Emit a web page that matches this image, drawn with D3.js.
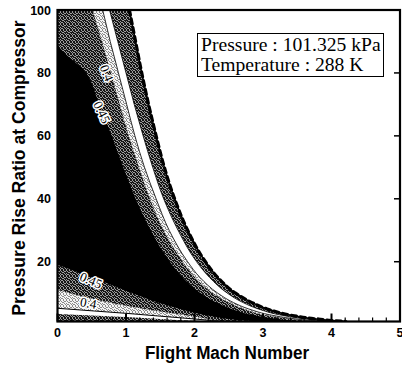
<!DOCTYPE html>
<html lang="en">
<head>
<meta charset="utf-8"/>
<title>Pressure rise ratio vs flight Mach number</title>
<script src="https://d3js.org/d3.v7.min.js"></script>
<style>
  html, body { margin: 0; padding: 0; background: #fff; }
  svg { display: block; }
  .tick-label { font-family: "Liberation Sans", Arial, sans-serif; font-size: 12.5px; font-weight: bold; fill: #000; }
  .axis-title { font-family: "Liberation Sans", Arial, sans-serif; font-weight: bold; fill: #000; }
  .note { font-family: "Liberation Serif", "Times New Roman", serif; font-size: 18px; fill: #000; }
  .clabel { font-family: "Liberation Serif", "Times New Roman", serif; font-size: 13px; fill: #000;
            stroke: #fff; stroke-width: 3px; paint-order: stroke; stroke-linejoin: round; }
</style>
</head>
<body>
<div id="chart"></div>
<script>
  // upper band: contour position (flight Mach) read at each pressure ratio
  const prLevels = [100, 90, 80, 70, 60, 50, 40, 30, 20, 15, 10, 7, 5, 3, 2, 1.4, 1];
  const machEdge = [1.05, 1.14, 1.23, 1.33, 1.44, 1.56, 1.71, 1.90, 2.16, 2.34, 2.60, 2.84, 3.06, 3.41, 3.70, 3.96, 4.21];
  const machL1   = [0.76, 0.88, 1.00, 1.12, 1.25, 1.39, 1.55, 1.76, 2.03, 2.22, 2.48, 2.71, 2.93, 3.27, 3.55, 3.80, 4.05];
  const machL2   = [0.66, 0.77, 0.89, 1.01, 1.13, 1.27, 1.44, 1.63, 1.90, 2.08, 2.34, 2.57, 2.79, 3.13, 3.41, 3.66, 3.90];
  const mach040  = [0.51, 0.65, 0.78, 0.91, 1.04, 1.19, 1.35, 1.55, 1.83, 2.01, 2.27, 2.50, 2.72, 3.05, 3.33, 3.58, 3.82];
  const mach045  = [0.00, 0.00, 0.42, 0.61, 0.79, 0.96, 1.14, 1.36, 1.64, 1.83, 2.09, 2.32, 2.54, 2.87, 3.14, 3.38, 3.62];

  // lower band: contour position (pressure ratio) read at each Mach number
  const machLevels = [0, 0.5, 1.0, 1.5, 2.0, 2.5, 3.0];
  const prLow045 = [19.0, 15.0, 10.8, 6.8, 3.8, 1.8, 1.0];
  const prLow040 = [11.0, 8.2, 6.0, 4.2, 2.6, 1.0, 1.0];
  const prLowL2  = [5.2, 4.4, 3.6, 2.7, 1.8, 1.0, 1.0];
  const prLowL1  = [3.4, 2.9, 2.4, 1.8, 1.2, 1.0, 1.0];

  // contour labels
  const labelText  = ["0.4", "0.45", "0.45", "0.4"];
  const labelMach  = [0.72, 0.65, 0.49, 0.45];
  const labelPr    = [80, 67.5, 14.1, 6.9];
  const labelAngle = [68, 64, 23, 10];

  const xTicks = [0, 1, 2, 3, 4, 5];
  const yTicks = [20, 40, 60, 80, 100];
  const noteLines = ["Pressure : 101.325 kPa", "Temperature : 288 K"];

  const width = 402, height = 369;
  const plotLeft = 57.5, plotRight = 400, plotTop = 10, plotBottom = 321.5;

  const x = d3.scaleLinear().domain([0, 5]).range([plotLeft, plotRight]);
  const y = d3.scaleLinear().domain([1, 100]).range([plotBottom, plotTop]);

  const svg = d3.select("#chart").append("svg")
      .attr("width", width)
      .attr("height", height)
      .attr("viewBox", [0, 0, width, height]);

  const defs = svg.append("defs");

  // scanned-looking stipple: a 6x6 tile with scattered dots
  const dots = [[0,0],[3,0],[1,1],[4,1],[5,1],[2,2],[3,2],[0,3],[4,3],[1,4],[2,4],[5,4],[3,5],[0,5]];
  function stipple(id, bg, dot) {
    const p = defs.append("pattern").attr("id", id)
        .attr("width", 6).attr("height", 6).attr("patternUnits", "userSpaceOnUse");
    p.append("rect").attr("width", 6).attr("height", 6).attr("fill", bg);
    p.selectAll("rect.dot")
      .data(dots)
      .join("rect")
        .attr("class", "dot")
        .attr("x", d => d[0]).attr("y", d => d[1])
        .attr("width", 1).attr("height", 1)
        .attr("fill", dot);
  }
  stipple("dark", "#151515", "#9c9c9c");
  stipple("light", "#f4f4f4", "#8a8a8a");

  defs.append("clipPath").attr("id", "plot")
    .append("rect").attr("x", plotLeft).attr("y", plotTop)
      .attr("width", plotRight - plotLeft).attr("height", plotBottom - plotTop);

  const upper = ms => prLevels.map((p, i) => ({pr: p, m: ms[i]}));
  const lower = ps => machLevels.map((m, i) => ({m: m, pr: ps[i]}));

  // area between Mach 0 and a contour given as Mach(P)
  const areaUpper = d3.area()
      .y(d => y(d.pr))
      .x0(x(0))
      .x1(d => x(d.m))
      .curve(d3.curveMonotoneY);
  const lineUpper = d3.line()
      .x(d => x(d.m))
      .y(d => y(d.pr))
      .curve(d3.curveMonotoneY);

  // area between P = 1 and a contour given as P(Mach)
  const areaLower = d3.area()
      .x(d => x(d.m))
      .y0(y(1))
      .y1(d => y(d.pr))
      .curve(d3.curveMonotoneX);
  const lineLower = d3.line()
      .x(d => x(d.m))
      .y(d => y(d.pr))
      .curve(d3.curveMonotoneX);

  defs.append("clipPath").attr("id", "core")
    .append("path").attr("d", areaUpper(upper(mach045)));

  const g = svg.append("g").attr("clip-path", "url(#plot)");

  // upper bands, painted from the outside in
  const bands = [
    {ms: machEdge, fill: "url(#dark)"},
    {ms: machL1, fill: "#fff"},
    {ms: machL2, fill: "url(#light)"},
    {ms: mach040, fill: "url(#dark)"},
    {ms: mach045, fill: "#000"}
  ];
  g.selectAll("path.band")
    .data(bands)
    .join("path")
      .attr("class", "band")
      .attr("d", d => areaUpper(upper(d.ms)))
      .attr("fill", d => d.fill);

  // outer edge: solid line plus a broken heavy stroke for the scalloped look
  g.append("path")
      .attr("d", lineUpper(upper(machEdge)))
      .attr("fill", "none")
      .attr("stroke", "#000")
      .attr("stroke-width", 1.4);
  g.append("path")
      .attr("d", lineUpper(upper(machEdge)))
      .attr("fill", "none")
      .attr("stroke", "#000")
      .attr("stroke-width", 3.2)
      .attr("stroke-linecap", "round")
      .attr("stroke-dasharray", "5 4");
  [machL1, machL2].forEach(ms => {
    g.append("path")
        .attr("d", lineUpper(upper(ms)))
        .attr("fill", "none")
        .attr("stroke", "#000")
        .attr("stroke-width", 0.8);
  });

  // lower bands, clipped to the high-efficiency core
  const low = g.append("g").attr("clip-path", "url(#core)");
  const lowBands = [
    {ps: prLow045, fill: "url(#dark)"},
    {ps: prLow040, fill: "url(#light)"},
    {ps: prLowL2, fill: "#fff"},
    {ps: prLowL1, fill: "url(#dark)"}
  ];
  low.selectAll("path.low")
    .data(lowBands)
    .join("path")
      .attr("class", "low")
      .attr("d", d => areaLower(lower(d.ps)))
      .attr("fill", d => d.fill);
  low.append("path")
      .attr("d", lineLower(lower(prLowL2)))
      .attr("fill", "none")
      .attr("stroke", "#000")
      .attr("stroke-width", 1);

  // contour labels
  svg.append("g")
    .selectAll("text")
    .data(labelText)
    .join("text")
      .attr("class", "clabel")
      .attr("text-anchor", "middle")
      .attr("dy", "0.35em")
      .attr("transform", (d, i) => `translate(${x(labelMach[i])},${y(labelPr[i])}) rotate(${labelAngle[i]})`)
      .text(d => d);

  // frame
  svg.append("rect")
      .attr("x", plotLeft).attr("y", plotTop)
      .attr("width", plotRight - plotLeft).attr("height", plotBottom - plotTop)
      .attr("fill", "none")
      .attr("stroke", "#000")
      .attr("stroke-width", 2.2);

  // inward ticks on the Mach axis
  const minor = d3.range(0, 5.01, 0.2);
  const isMajor = d => Math.abs(d - Math.round(d)) < 1e-6;
  svg.append("g")
    .selectAll("line")
    .data(minor)
    .join("line")
      .attr("x1", d => x(d)).attr("x2", d => x(d))
      .attr("y1", plotBottom)
      .attr("y2", d => isMajor(d) ? plotBottom - 8 : plotBottom - 4)
      .attr("stroke", "#000")
      .attr("stroke-width", d => isMajor(d) ? 2 : 1.2);

  svg.append("g")
    .selectAll("line")
    .data(yTicks)
    .join("line")
      .attr("x1", plotRight).attr("x2", plotRight - 6)
      .attr("y1", d => y(d)).attr("y2", d => y(d))
      .attr("stroke", "#000")
      .attr("stroke-width", 1.5);

  // tick labels
  svg.append("g")
    .selectAll("text")
    .data(xTicks)
    .join("text")
      .attr("class", "tick-label")
      .attr("x", d => x(d))
      .attr("y", 337)
      .attr("text-anchor", "middle")
      .text(d => d);

  svg.append("g")
    .selectAll("text")
    .data(yTicks)
    .join("text")
      .attr("class", "tick-label")
      .attr("x", 51)
      .attr("y", d => y(d))
      .attr("dy", "0.36em")
      .attr("text-anchor", "end")
      .text(d => d);

  // axis titles
  svg.append("text")
      .attr("class", "axis-title")
      .attr("transform", "translate(227,359) scale(0.9,1)")
      .attr("text-anchor", "middle")
      .style("font-size", "19px")
      .text("Flight Mach Number");

  svg.append("text")
      .attr("class", "axis-title")
      .attr("transform", "translate(25,168) rotate(-90)")
      .attr("text-anchor", "middle")
      .style("font-size", "17.6px")
      .text("Pressure Rise Ratio at Compressor");

  // condition box
  svg.append("rect")
      .attr("x", 197.5).attr("y", 33.5)
      .attr("width", 186).attr("height", 43)
      .attr("fill", "#fff")
      .attr("stroke", "#000")
      .attr("stroke-width", 1);

  svg.append("g")
    .selectAll("text")
    .data(noteLines)
    .join("text")
      .attr("class", "note")
      .attr("transform", (d, i) => `translate(201,${51 + i * 20}) scale(1.09,1)`)
      .text(d => d);
</script>
</body>
</html>
